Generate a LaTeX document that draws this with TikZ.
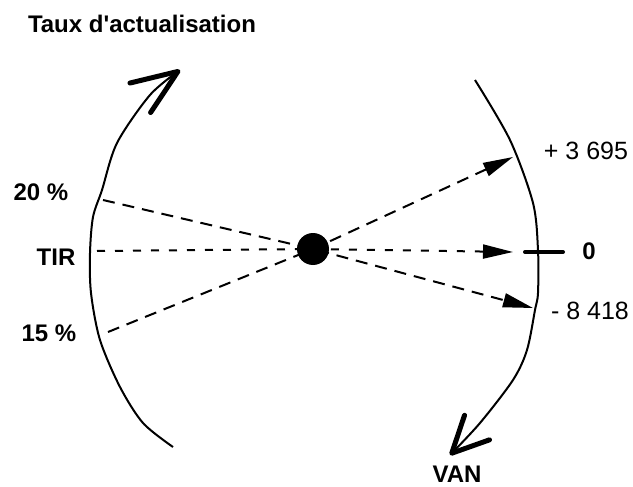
\documentclass[tikz,border=0pt]{standalone}
\usepackage{fontspec}
\setmainfont{Liberation Sans}
\setsansfont{Liberation Sans}
\usetikzlibrary{arrows.meta,positioning}

\begin{document}
\begin{tikzpicture}[
    x=0.5pt, y=-0.5pt,
    font=\sffamily\fontsize{12}{14}\selectfont,
    lbl/.style={font=\sffamily\bfseries\fontsize{12}{14}\selectfont, inner sep=0pt},
    val/.style={font=\sffamily\fontsize{12.5}{15}\selectfont, inner sep=0pt},
    arc/.style={line width=1pt, line join=round},
    link/.style={line width=1pt, dash pattern=on 6pt off 4pt, -{Triangle[length=15pt, width=7pt]}},
    shortlink/.style={link, dash pattern=on 4pt off 5pt},
    tick/.style={line width=2pt, line cap=round}
]
    \useasboundingbox (0,0) rectangle (633,487);

    % --- Titres et valeurs ---
    \node[lbl] (title) at (142,24) {Taux d\textquotesingle actualisation};
    \node[lbl] (p20) at (41,192) {20 \%};
    \node[lbl] (tir) at (56,257) {TIR};
    \node[lbl] (p15) at (49,333) {15 \%};
    \node[val] (vpos) at (586,151) {+ 3 695};
    \node[lbl] (zero) at (589,251) {0};
    \node[val] (vneg) at (590,311) {- 8 418};
    \node[lbl] (van) at (457,474) {VAN};

    % --- Arcs ---
    \draw[arc, -{Straight Barb[length=23pt, width=18pt, line width=2.5pt, round]}]
        plot[smooth, tension=0.5] coordinates {(173,447) (143,423) (120,387) (100,340) (91,293)
        (90,253) (93,217) (102,190) (117,143) (150,95) (180,70)};
    \draw[arc, -{Straight Barb[length=18pt, width=17.5pt, line width=2.5pt, round]}]
        plot[smooth, tension=0.5] coordinates {(475,80) (510,140) (533,203) (538,250) (538,293)
        (535,310) (527,350) (513,380) (480,423) (450,455)};
    \draw[tick] (525,252) -- (563,252);

    % --- Points sur les arcs ---
    \coordinate (l20) at (103,200);
    \coordinate (ltir) at (97,251);
    \coordinate (l15) at (108,332);
    \coordinate (rpos) at (513,157);
    \coordinate (rzero) at (513,252);
    \coordinate (rneg) at (533,308);

    \node[circle, fill, minimum size=16pt, inner sep=0pt] (dot) at (313,249) {};

    % --- Relations ---
    \draw[link] (l20) -- (dot.center) -- (rneg);
    \draw[link] (l15) -- (dot.center) -- (rpos);
    \draw[shortlink] (ltir) -- (dot.center) -- (rzero);

\end{tikzpicture}
\end{document}
